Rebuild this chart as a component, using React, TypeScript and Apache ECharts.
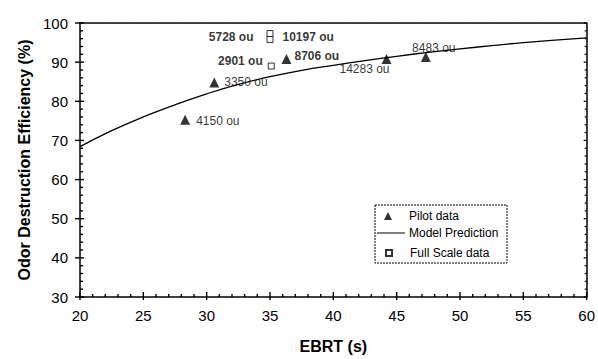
import React, { useEffect, useRef } from "react";
import * as echarts from "echarts";

// Model prediction curve
const modelX = [20, 22.5, 25, 27.5, 30, 32.5, 35, 37.5, 40, 42.5, 45, 47.5, 50, 52.5, 55, 57.5, 60];
const modelY = [68.4, 72.5, 76.0, 79.1, 81.9, 84.3, 86.3, 87.9, 89.2, 90.4, 91.5, 92.5, 93.4, 94.2, 95.0, 95.6, 96.2];

// Pilot data
const pilotX = [28.3, 30.6, 36.3, 44.2, 47.3];
const pilotY = [75.3, 84.8, 90.8, 90.8, 91.3];
const pilotLabels = ["4150 ou", "3350 ou", "8706 ou", "14283 ou", "8483 ou"];

// Full scale data
const fullX = [35.1, 35.0, 35.0];
const fullY = [89.0, 97.3, 95.8];
const fullLabels = ["2901 ou", "5728 ou", "10197 ou"];

// Axis ticks
const xMin = 20, xMax = 60, xStep = 5, xMinorStep = 1;
const yMin = 30, yMax = 100, yStep = 10, yMinorStep = 2;

// label placement (style only)
const pilotLabelStyle = [
  { position: "right", distance: 6, offset: [0, 1], fontWeight: "normal" },
  { position: "right", distance: 5, offset: [0, 0], fontWeight: "normal" },
  { position: "right", distance: 3, offset: [0, -3], fontWeight: "bold" },
  { position: "bottom", distance: 0, offset: [-22, -1], fontWeight: "normal" },
  { position: "top", distance: 0, offset: [8, 2], fontWeight: "normal" },
];
const fullLabelStyle = [
  { position: "left", distance: 5, offset: [0, -5], fontWeight: "bold" },
  { position: "left", distance: 13, offset: [0, 3], fontWeight: "bold" },
  { position: "right", distance: 9, offset: [0, -2], fontWeight: "bold" },
];

const FONT = "Liberation Sans, Arial, Helvetica, sans-serif";

function tickList(min: number, max: number, minor: number, major: number) {
  const out: number[][] = [];
  const n = Math.round((max - min) / minor);
  for (let i = 0; i <= n; i++) {
    const v = min + i * minor;
    const isMajor = Math.abs(v / major - Math.round(v / major)) < 1e-6 ? 1 : 0;
    out.push([v, isMajor]);
  }
  return out;
}

export default function App() {
  const ref = useRef<HTMLDivElement>(null);
  useEffect(() => {
    if (!ref.current) return;
    const chart = echarts.init(ref.current, undefined, { renderer: "svg" });
    const mkData = (xs: number[], ys: number[], labels: string[], styles: any[]) =>
      xs.map((x, i) => ({
        value: [x, ys[i]],
        label: {
          show: true,
          formatter: labels[i],
          position: styles[i].position,
          distance: styles[i].distance,
          offset: styles[i].offset,
          fontWeight: styles[i].fontWeight,
          fontSize: 12,
          color: "#000",
          fontFamily: FONT,
        },
      }));
    const legendText = { fontSize: 12, color: "#000", fontFamily: FONT };
    const xTicks = tickList(xMin, xMax, xMinorStep, xStep);
    const yTicks = tickList(yMin, yMax, yMinorStep, yStep);
    chart.setOption({
      animation: false,
      backgroundColor: "#fff",
      textStyle: { fontFamily: FONT, color: "#000" },
      grid: { left: 80, right: 10, top: 23, bottom: 55, containLabel: false },
      graphic: [
        {
          type: "rect",
          shape: { x: 375, y: 205, width: 132, height: 58 },
          style: { fill: "#fff", stroke: "#000", lineWidth: 1, lineDash: [2, 1] },
          z: 10,
        },
      ],
      legend: [
        {
          left: 384,
          top: 210,
          itemWidth: 8,
          itemHeight: 8,
          itemGap: 0,
          padding: 0,
          textStyle: { ...legendText, padding: [0, 0, 0, 12] },
          data: [{ name: "Pilot data", icon: "triangle" }],
          z: 20,
        },
        {
          left: 377,
          top: 227,
          itemWidth: 28,
          itemHeight: 1,
          padding: 0,
          textStyle: { ...legendText, padding: [0, 0, 0, -1] },
          data: [{ name: "Model Prediction", icon: "rect" }],
          z: 20,
        },
        {
          left: 385,
          top: 247,
          itemWidth: 6,
          itemHeight: 6,
          padding: 0,
          textStyle: { ...legendText, padding: [0, 0, 0, 13] },
          data: [{ name: "Full Scale data", icon: "rect" }],
          z: 20,
        },
      ],
      xAxis: [
        {
          type: "value",
          min: xMin,
          max: xMax,
          interval: xStep,
          name: "EBRT (s)",
          nameLocation: "middle",
          nameGap: 41,
          nameTextStyle: { fontSize: 16, fontWeight: "bold", color: "#000", fontFamily: FONT },
          axisLine: { show: true, lineStyle: { color: "#000", width: 1.5 } },
          axisTick: { show: false },
          axisLabel: { fontSize: 15, color: "#000", margin: 11, fontFamily: FONT },
          splitLine: { show: false },
        },
        {
          type: "value",
          position: "top",
          min: xMin,
          max: xMax,
          interval: xStep,
          axisLine: { show: true, lineStyle: { color: "#000", width: 1.5, type: [2, 1] } },
          axisTick: { show: false },
          axisLabel: { show: false },
          splitLine: { show: false },
        },
      ],
      yAxis: [
        {
          type: "value",
          min: yMin,
          max: yMax,
          interval: yStep,
          name: "Odor Destruction Efficiency (%)",
          nameLocation: "middle",
          nameGap: 47,
          nameTextStyle: { fontSize: 16, fontWeight: "bold", color: "#000", fontFamily: FONT },
          axisLine: { show: true, lineStyle: { color: "#000", width: 1.5 } },
          axisTick: { show: false },
          axisLabel: { fontSize: 15, color: "#000", margin: 12, fontFamily: FONT },
          splitLine: { show: false },
        },
        {
          type: "value",
          position: "right",
          min: yMin,
          max: yMax,
          interval: yStep,
          axisLine: { show: true, lineStyle: { color: "#000", width: 1.5 } },
          axisTick: { show: false },
          axisLabel: { show: false },
          splitLine: { show: false },
        },
      ],
      series: [
        {
          type: "custom",
          silent: true,
          clip: false,
          data: xTicks,
          renderItem: (params: any, api: any) => {
            const p = api.coord([api.value(0), yMin]);
            const major = api.value(1) === 1;
            return {
              type: "line",
              shape: { x1: p[0], y1: p[1] + (major ? 3 : 0), x2: p[0], y2: p[1] - (major ? 5 : 3) },
              style: { stroke: "#000", lineWidth: 1.4 },
            };
          },
          z: 5,
        },
        {
          type: "custom",
          silent: true,
          clip: false,
          data: yTicks,
          renderItem: (params: any, api: any) => {
            const p = api.coord([xMin, api.value(0)]);
            const major = api.value(1) === 1;
            return {
              type: "line",
              shape: { x1: p[0] - (major ? 5 : 0), y1: p[1], x2: p[0] + (major ? 4 : 3), y2: p[1] },
              style: { stroke: "#000", lineWidth: 1.4 },
            };
          },
          encode: { x: -1, y: 0 },
          z: 5,
        },
        {
          type: "custom",
          silent: true,
          clip: false,
          data: yTicks,
          renderItem: (params: any, api: any) => {
            const p = api.coord([xMax, api.value(0)]);
            const major = api.value(1) === 1;
            return {
              type: "line",
              shape: { x1: p[0], y1: p[1], x2: p[0] - (major ? 3 : 2), y2: p[1] },
              style: { stroke: "#000", lineWidth: 1.2 },
            };
          },
          encode: { x: -1, y: 0 },
          z: 5,
        },
        {
          name: "Model Prediction",
          type: "line",
          data: modelX.map((x, i) => [x, modelY[i]]),
          smooth: true,
          symbol: "none",
          lineStyle: { color: "#000", width: 1.3 },
          itemStyle: { color: "#000" },
          z: 2,
        },
        {
          name: "Pilot data",
          type: "scatter",
          symbol: "triangle",
          symbolSize: 10,
          itemStyle: { color: "#000" },
          data: mkData(pilotX, pilotY, pilotLabels, pilotLabelStyle),
          z: 3,
        },
        {
          name: "Full Scale data",
          type: "scatter",
          symbol: "rect",
          symbolSize: 6,
          itemStyle: { color: "#fff", borderColor: "#000", borderWidth: 1 },
          data: mkData(fullX, fullY, fullLabels, fullLabelStyle),
          z: 3,
        },
      ],
    });
    return () => chart.dispose();
  }, []);
  return <div ref={ref} style={{ width: 598, height: 359, position: "absolute", left: 0, top: 0 }} />;
}
